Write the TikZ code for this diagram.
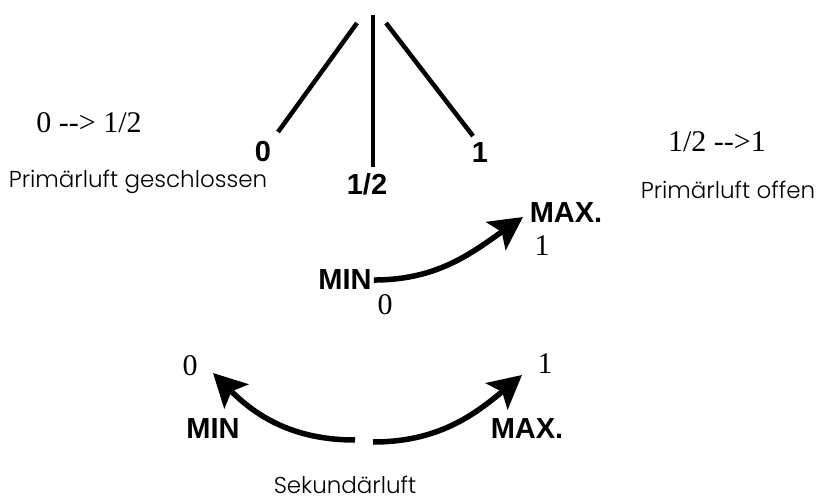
\documentclass[tikz,border=0pt]{standalone}
\usepackage{fontspec}
\setmainfont{Liberation Serif}
\setsansfont{Liberation Sans}
\newfontfamily\gothic{Poppins Light}
\usetikzlibrary{arrows.meta}
\tikzset{
  lever/.style={line width=4.5pt, line cap=butt},
  swing/.style={-{Stealth[length=33pt, width=34pt, inset=7pt]}, line width=5.5pt},
  valtxt/.style={font=\fontsize{30}{32}\selectfont, inner sep=0pt, anchor=base},
  dialtxt/.style={font=\fontsize{29}{31}\selectfont\sffamily\bfseries, inner sep=2pt, anchor=base},
  airtxt/.style={font=\fontsize{23}{26}\selectfont\gothic, inner sep=0pt, anchor=base},
}

\begin{document}
\begin{tikzpicture}[x=1pt, y=-1pt]
  \useasboundingbox (0,0) rectangle (821,502);
  % lever positions
  \coordinate (pivL) at (357,23); \coordinate (pivM) at (373,15); \coordinate (pivR) at (386,23);
  \coordinate (endL) at (278,132); \coordinate (endM) at (373,167); \coordinate (endR) at (473,136);
  \draw[lever] (pivL) -- (endL);
  \draw[lever] (pivM) -- (endM);
  \draw[lever] (pivR) -- (endR);
  \node[dialtxt] (posZero) at (263,162) {0};
  \node[dialtxt] (posHalf) at (367,195) {1/2};
  \node[dialtxt] (posOne) at (480,163) {1};
  % primary air
  \node[valtxt] (rangeLo) at (89,133) {0 {-}{-}> 1/2};
  \node[airtxt] (closed) at (138,188) {Primärluft geschlossen};
  \node[valtxt] (rangeHi) at (717,152) {1/2 {-}{-}>1};
  \node[airtxt] (opened) at (728,199) {Primärluft offen};
  % middle dial
  \node[dialtxt] (minM) at (345,290) {MIN};
  \node[dialtxt] (maxM) at (566,223) {MAX.};
  \node[valtxt] (zeroM) at (385,315) {0};
  \node[valtxt] (oneM) at (542,256) {1};
  \coordinate (tipM) at (523,217);
  \draw[swing] (minM.east) to[out=0, in=215] (tipM);
  % secondary air
  \node[valtxt] (zeroS) at (190,375) {0};
  \node[valtxt] (oneS) at (545,373) {1};
  \node[dialtxt] (minS) at (213,438) {MIN};
  \node[dialtxt] (maxS) at (527,438) {MAX.};
  \coordinate (tailL) at (355,440); \coordinate (tipL) at (213,373);
  \coordinate (tailR) at (373,442); \coordinate (tipR) at (522,375);
  \draw[swing] (tailL) to[out=180, in=-45] (tipL);
  \draw[swing] (tailR) to[out=0, in=220] (tipR);
  \node[airtxt] (second) at (345,493) {Sekundärluft};
\end{tikzpicture}
\end{document}
